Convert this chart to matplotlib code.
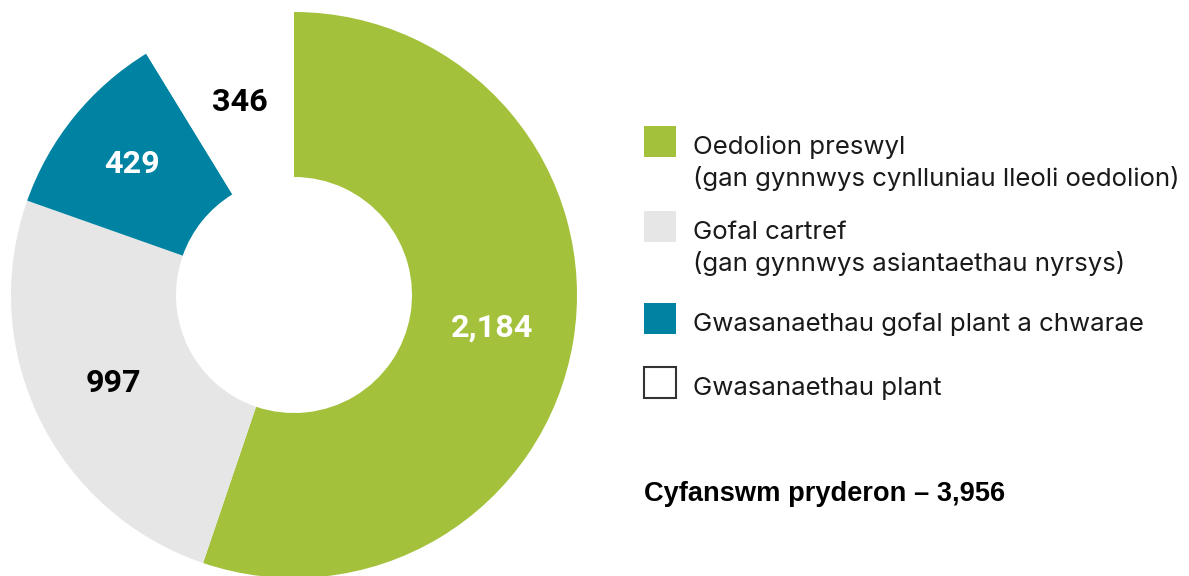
import matplotlib
matplotlib.use("Agg")
import matplotlib.pyplot as plt
import numpy as np
from matplotlib.patches import Rectangle

# ---- data ----
categories = [
    "Oedolion preswyl\n(gan gynnwys cynlluniau lleoli oedolion)",
    "Gofal cartref\n(gan gynnwys asiantaethau nyrsys)",
    "Gwasanaethau gofal plant a chwarae",
    "Gwasanaethau plant",
]
values = [2184, 997, 429, 346]
value_labels = ["2,184", "997", "429", "346"]
total_label = "Cyfanswm pryderon \u2013 3,956"

# ---- styles ----
colors = ["#A3C13A", "#E6E6E6", "#0083A2", "#FFFFFF"]
label_colors = ["white", "black", "white", "black"]
label_rscale = [1.0, 1.0, 1.04, 1.0]

W, H = 1189, 576
fig = plt.figure(figsize=(W / 100, H / 100), dpi=100)
ax = fig.add_axes([0, 0, 1, 1])

cx, cy = 294, H - 295
R, r_in = 283, 118

wedges, _ = ax.pie(values, colors=colors, startangle=90, counterclock=False,
                   center=(cx, cy), radius=R,
                   wedgeprops=dict(width=R - r_in, edgecolor="none", linewidth=0))
ax.set_xlim(0, W)
ax.set_ylim(0, H)
ax.set_aspect("auto")
ax.axis("off")

rmid = (R + r_in) / 2
for w, lab, lc, rs in zip(wedges, value_labels, label_colors, label_rscale):
    ang = np.deg2rad((w.theta1 + w.theta2) / 2)
    x = cx + rmid * rs * np.cos(ang)
    y = cy + rmid * rs * np.sin(ang)
    ax.text(x, y, lab, ha="center", va="center", color=lc,
            fontsize=23.3, fontweight="bold", family=["Roboto", "DejaVu Sans"])

# legend
sq_x, sq_w, sq_h = 644, 32, 31
tops = [126, 211, 303, 367]
text_x = 693
line_h = 32
for cat, col, top in zip(categories, colors, tops):
    ec = "#333333" if col.upper() == "#FFFFFF" else "none"
    ax.add_patch(Rectangle((sq_x, H - top - sq_h), sq_w, sq_h, facecolor=col,
                           edgecolor=ec, linewidth=1.5))
    for i, line in enumerate(cat.split("\n")):
        ax.text(text_x, H - (top + 28 + i * line_h), line, ha="left", va="baseline",
                fontsize=18.6, color="#1a1a1a", family=["Inter", "Roboto", "DejaVu Sans"])

ax.text(644, H - 501, total_label, ha="left", va="baseline", fontsize=19.6,
        fontweight="bold", color="black", family=["Liberation Sans", "DejaVu Sans"])

fig.savefig("out.png", dpi=100)
